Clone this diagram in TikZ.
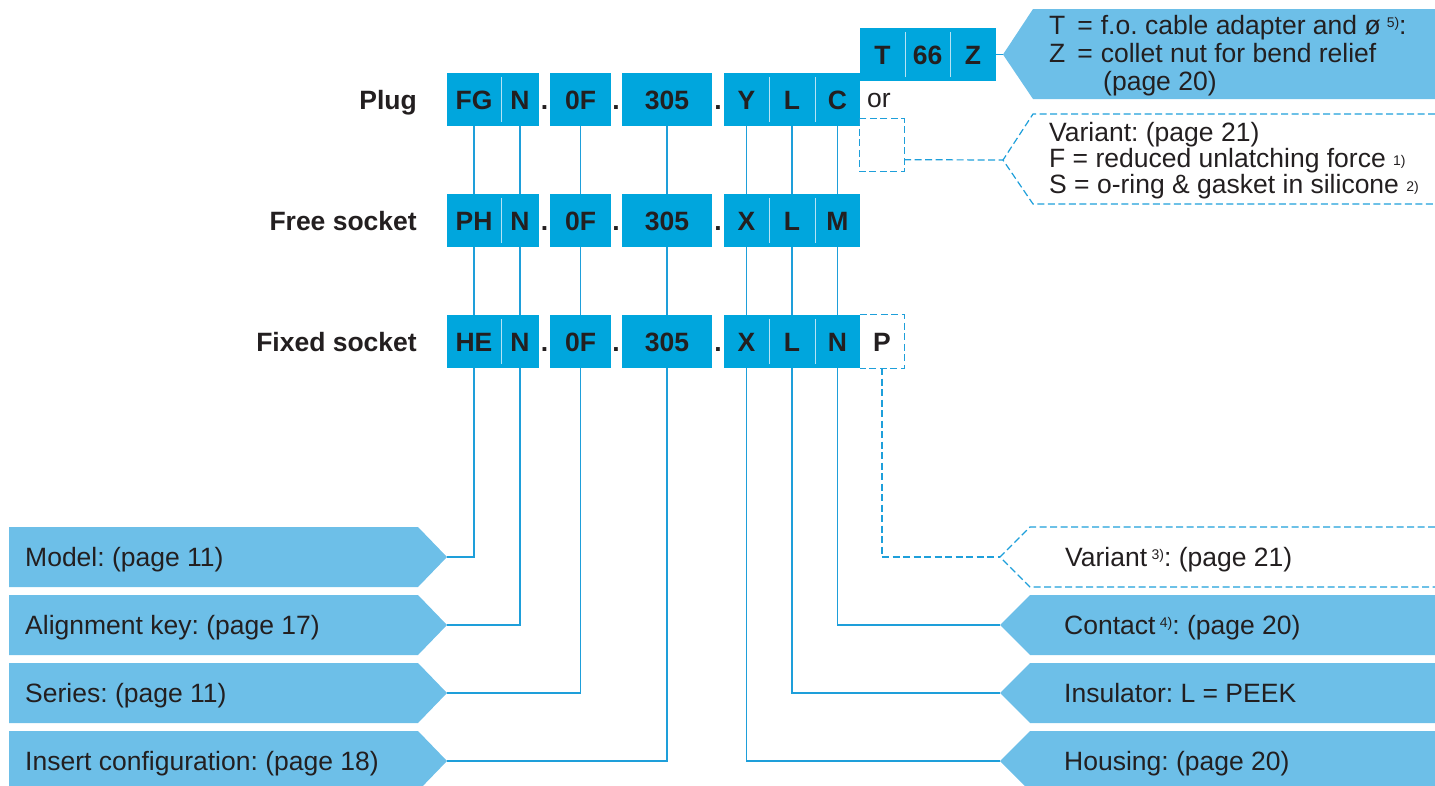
\documentclass[tikz,border=0pt]{standalone}
\usepackage{fontspec}
\setmainfont{Liberation Sans}
\usetikzlibrary{calc}
\definecolor{boxblue}{HTML}{00A6DD}
\definecolor{callblue}{HTML}{6DBFE8}
\definecolor{lineblue}{HTML}{1E9FDA}
\definecolor{divline}{HTML}{B5E3F5}
\definecolor{ink}{HTML}{231F20}
\pgfdeclarelayer{bg}
\pgfsetlayers{bg,main}
\frenchspacing
\newcommand{\bigf}{\fontsize{26.5}{30}\selectfont}
\newcommand{\regf}{\fontsize{26.5}{30}\selectfont}
\newcommand{\supf}[2][6.5]{\raisebox{#1pt}{\fontsize{14}{14}\selectfont #2}}
\begin{document}
\begin{tikzpicture}[x=1pt,y=-1pt,
  seg/.style={fill=boxblue, inner sep=0pt, minimum height=53pt, text height=19pt, text depth=0pt, font=\bigf\bfseries, text=ink},
  dbox/.style={inner sep=0pt, minimum height=53pt, minimum width=44pt, text height=19pt, text depth=0pt, font=\bigf\bfseries, text=ink},
  rowlabel/.style={anchor=base east, font=\bigf\bfseries, text=ink, inner sep=0pt},
  dotlabel/.style={anchor=base, font=\bigf\bfseries, text=ink, inner sep=0pt},
  conn/.style={draw=lineblue, line width=1.1pt},
  dconn/.style={draw=lineblue, line width=1.2pt, dash pattern=on 7pt off 3.5pt},
  divider/.style={draw=divline, line width=1.3pt},
  calltext/.style={anchor=base west, font=\regf, text=ink, inner sep=0pt},
  callshape/.style={fill=callblue}
]
\useasboundingbox (0,0) rectangle (1435,785);

% ---- code rows ----
\foreach \r/\yy/\xa/\xe/\xg/\nm in {1/99.5/FG/Y/C/Plug, 2/220.5/PH/X/M/Free socket, 3/341.5/HE/X/N/Fixed socket} {
  \node[seg, minimum width=54pt] (r\r-a) at (474,\yy) {\xa};
  \node[seg, minimum width=38pt] (r\r-b) at (520,\yy) {N};
  \node[seg, minimum width=61pt] (r\r-c) at (580.5,\yy) {0F};
  \node[seg, minimum width=90pt] (r\r-d) at (667,\yy) {305};
  \node[seg, minimum width=45pt] (r\r-e) at (746.5,\yy) {\xe};
  \node[seg, minimum width=46pt] (r\r-f) at (792,\yy) {L};
  \node[seg, minimum width=45pt] (r\r-g) at (837.5,\yy) {\xg};
  \draw[divider] ($(r\r-a.north east)+(0,4)$) -- ($(r\r-a.south east)+(0,-4)$);
  \draw[divider] ($(r\r-e.north east)+(0,4)$) -- ($(r\r-e.south east)+(0,-4)$);
  \draw[divider] ($(r\r-f.north east)+(0,4)$) -- ($(r\r-f.south east)+(0,-4)$);
  \node[rowlabel] (lab\r) at (417,\yy+9.5) {\nm};
  \node[dotlabel] (dot\r-1) at (544.5,\yy+9.5) {.};
  \node[dotlabel] (dot\r-2) at (616,\yy+9.5) {.};
  \node[dotlabel] (dot\r-3) at (718,\yy+9.5) {.};
}

% ---- T 66 Z box ----
\node[seg, minimum width=45pt] (t1) at (882.5,54.5) {T};
\node[seg, minimum width=45pt] (t2) at (927.5,54.5) {66};
\node[seg, minimum width=46pt] (t3) at (973,54.5) {Z};
\draw[divider] ($(t1.north east)+(0,4)$) -- ($(t1.south east)+(0,-4)$);
\draw[divider] ($(t2.north east)+(0,4)$) -- ($(t2.south east)+(0,-4)$);

% ---- top right solid callout ----
\fill[callshape] (1435,9) -- (1033,9) -- (1003,54.5) -- (1033,99) -- (1435,99) -- cycle;
\coordinate (tipTZ) at (1003,54.5);
\node[calltext] (tz1) at (1049,34) {T\hspace{12pt}=\hspace{8pt}f.o. cable adapter and ø\hspace{6pt}\supf{5)}:};
\node[calltext] (tz2) at (1049,62) {Z\hspace{12pt}=\hspace{8pt}collet nut for bend relief};
\node[calltext] (tz3) at (1103,90) {(page 20)};
\draw[conn] (t3.east) -- (tipTZ);

% ---- or / plug variant dashed ----
\node[calltext] (or) at (867,107) {or};
\node[dbox] (vbox) at (882,145) {};
\draw[dconn] (vbox.north west) rectangle (vbox.south east);
\draw[dconn] (1435,114) -- (1033,114) -- (1003,160) -- (1033,204) -- (1435,204);
\coordinate (tipV1) at (1003,160);
\draw[dconn] ($(vbox.south east)+(0,-12)$) -- (tipV1);
\node[calltext] (v1) at (1049,141) {Variant: (page 21)};
\node[calltext] (v2) at (1049,167) {F = reduced unlatching force \supf[2]{1)}};
\node[calltext] (v3) at (1049,193) {S = o-ring \& gasket in silicone \supf[2]{2)}};

% ---- P dashed box (fixed socket) ----
\node[dbox] (pbox) at (882,341.5) {P};
\draw[dconn] (pbox.north west) -- (pbox.north east) -- (pbox.south east) -- (pbox.south west);

% ---- left callouts ----
\foreach \n/\yc/\t in {Model/557/{Model: (page 11)}, Align/625/{Alignment key: (page 17)}, Series/693/{Series: (page 11)}, Insert/761/{Insert configuration: (page 18)}} {
  \fill[callshape] (9,\yc-30) -- (418,\yc-30) -- (447,\yc) -- (418,\yc+30) -- (9,\yc+30) -- cycle;
  \coordinate (tip\n) at (447,\yc);
  \node[calltext] (txt\n) at (25,\yc+9) {\t};
}

% ---- right callouts ----
\draw[dconn] (1435,527) -- (1030,527) -- (1000,557) -- (1030,587) -- (1435,587);
\coordinate (tipVar) at (1000,557);
\node[calltext] (txtVar) at (1065,566) {Variant\,\supf{3)}: (page 21)};
\foreach \n/\yc in {Contact/625, Insul/693, Housing/761} {
  \fill[callshape] (1435,\yc-30) -- (1030,\yc-30) -- (1000,\yc) -- (1030,\yc+30) -- (1435,\yc+30) -- cycle;
  \coordinate (tip\n) at (1000,\yc);
}
\node[calltext] (txtContact) at (1064,634) {Contact\,\supf{4)}: (page 20)};
\node[calltext] (txtInsul) at (1064,702) {Insulator: L = PEEK};
\node[calltext] (txtHousing) at (1064,770) {Housing: (page 20)};

\draw[dconn] (pbox.south) |- (tipVar);

% ---- connectors (behind boxes) ----
\begin{pgfonlayer}{bg}
\draw[conn] (r1-a.south) |- (tipModel);
\draw[conn] (r1-b.south) |- (tipAlign);
\draw[conn] (r1-c.south) |- (tipSeries);
\draw[conn] (r1-d.south) |- (tipInsert);
\draw[conn] (r1-e.south) |- (tipHousing);
\draw[conn] (r1-f.south) |- (tipInsul);
\draw[conn] (r1-g.south) |- (tipContact);
\end{pgfonlayer}
\end{tikzpicture}
\end{document}
